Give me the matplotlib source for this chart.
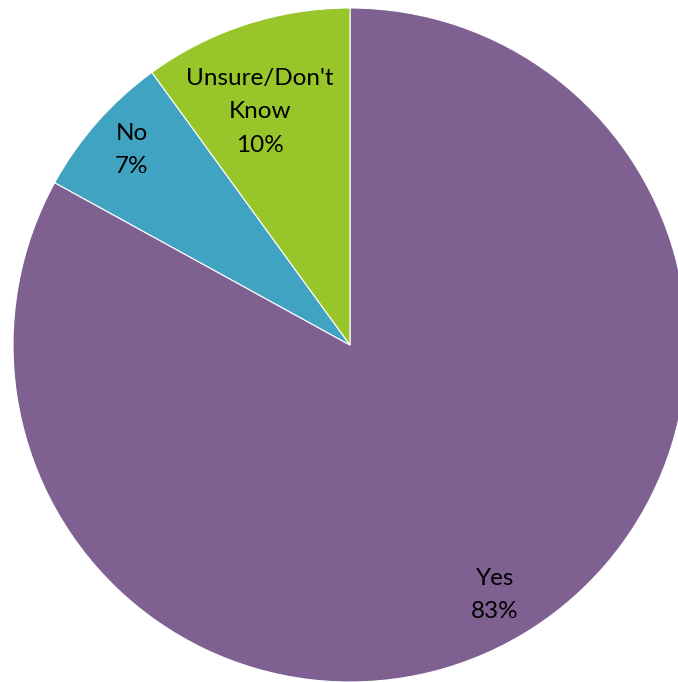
import matplotlib
matplotlib.use("Agg")
import matplotlib.pyplot as plt

answers = ["Yes", "No", "Unsure/Don't\nKnow"]
shares = [83, 7, 10]
colors = ["#7F6191", "#41A3C2", "#97C52A"]

# label anchors in pixel space (x from left, y from top)
label_xy = [(495, 595), (132, 150), (260, 112)]

W, H = 678, 682
fig = plt.figure(figsize=(W / 100, H / 100), dpi=100)
ax = fig.add_axes([0, 0, 1, 1])

cx, cy, r = 350, H - 345, 337
wedges, _ = ax.pie(shares, colors=colors, startangle=90, counterclock=False,
                   center=(cx, cy), radius=r,
                   wedgeprops=dict(edgecolor="white", linewidth=0.8))

for name, val, (lx, ly) in zip(answers, shares, label_xy):
    ax.text(lx, H - ly, f"{name}\n{val}%", ha="center", va="center",
            fontsize=17.5, family="Lato", linespacing=1.75, color="black")

ax.set_xlim(0, W)
ax.set_ylim(0, H)
ax.set_aspect("equal")
ax.axis("off")

fig.savefig("out.png", dpi=100)
